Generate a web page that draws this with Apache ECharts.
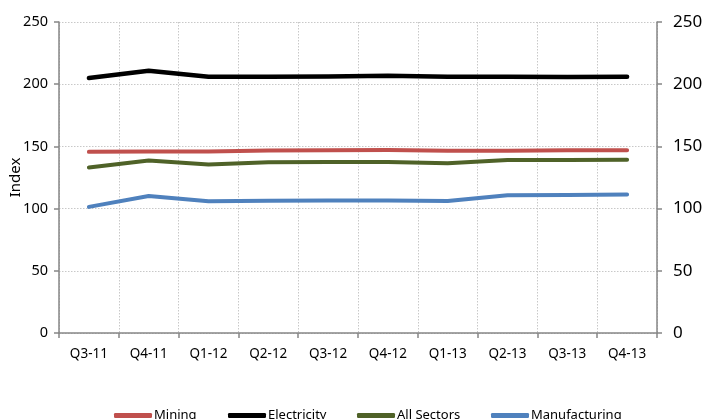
<!DOCTYPE html>
<html>
<head>
<meta charset="utf-8">
<script src="https://cdn.jsdelivr.net/npm/echarts@6/dist/echarts.min.js"></script>
<style>
html,body{margin:0;padding:0;background:#fff;}
#chart{width:704px;height:419px;}
</style>
</head>
<body>
<div id="chart"></div>
<script>
var categories = ['Q3-11','Q4-11','Q1-12','Q2-12','Q3-12','Q4-12','Q1-13','Q2-13','Q3-13','Q4-13'];
var mining = [145.6, 145.8, 146.0, 146.8, 147.0, 147.2, 146.5, 146.5, 147.0, 147.0];
var electricity = [205.0, 210.8, 206.0, 206.0, 206.2, 206.7, 206.0, 206.0, 205.8, 206.0];
var allSectors = [133.0, 138.7, 135.5, 137.3, 137.5, 137.5, 136.5, 139.0, 139.0, 139.2];
var manufacturing = [101.4, 110.2, 106.0, 106.3, 106.5, 106.5, 106.2, 110.8, 111.0, 111.3];
var yTicks = [0, 50, 100, 150, 200, 250];

var FONT = '"Noto Sans", sans-serif';
var chart = echarts.init(document.getElementById('chart'));

function legendAt(name, left) {
  return {
    data: [name], left: left, top: 409, orient: 'horizontal',
    icon: 'roundRect', itemWidth: 38, itemHeight: 5, itemGap: 0,
    textStyle: {fontFamily: FONT, fontSize: 13, color: '#000', padding: [0,0,0,-3]},
    padding: 0
  };
}

var yAxisCommon = {
  type: 'value', min: yTicks[0], max: yTicks[yTicks.length-1], interval: 50,
  axisLine: {show: true, lineStyle: {color: '#868686', width: 1.5}},
  axisTick: {show: true, length: 5, lineStyle: {color: '#868686', width: 1.5}},
  splitLine: {show: true, lineStyle: {color: '#c8c8c8', type: [1.5, 1.5], width: 1}}
};

function line(name, data, color, width) {
  return {
    name: name, type: 'line', data: data, symbol: 'none', smooth: false,
    lineStyle: {color: color, width: width, cap: 'round', join: 'round'},
    itemStyle: {color: color}
  };
}

chart.setOption({
  animation: false,
  backgroundColor: '#fff',
  grid: {left: 59, right: 47, top: 22, bottom: 86, containLabel: false, outerBoundsMode: 'none'},
  legend: [
    legendAt('Mining', 114),
    legendAt('Electricity', 228),
    legendAt('All Sectors', 357),
    legendAt('Manufacturing', 491)
  ],
  xAxis: {
    type: 'category', data: categories, boundaryGap: true,
    axisLine: {show: true, lineStyle: {color: '#868686', width: 1.5}},
    axisTick: {show: true, length: 5, alignWithLabel: false, lineStyle: {color: '#868686', width: 1.5}},
    axisLabel: {fontFamily: FONT, fontSize: 13.5, color: '#000', margin: 14},
    splitLine: {show: true, lineStyle: {color: '#c8c8c8', type: [1.5, 1.5], width: 1}}
  },
  yAxis: [
    Object.assign({}, yAxisCommon, {
      position: 'left', name: 'Index', nameLocation: 'middle', nameGap: 36,
      nameMoveOverlap: false,
      nameTextStyle: {fontFamily: FONT, fontSize: 15, color: '#000'},
      axisLabel: {fontFamily: FONT, fontSize: 14.5, color: '#000', margin: 11}
    }),
    Object.assign({}, yAxisCommon, {
      position: 'right',
      splitLine: {show: false},
      axisLabel: {fontFamily: FONT, fontSize: 17, color: '#000', margin: 16}
    })
  ],
  series: [
    line('Mining', mining, '#C0504D', 4),
    line('Electricity', electricity, '#000000', 4.5),
    line('All Sectors', allSectors, '#4F6228', 4),
    line('Manufacturing', manufacturing, '#4F81BD', 4)
  ]
});
</script>
</body>
</html>
